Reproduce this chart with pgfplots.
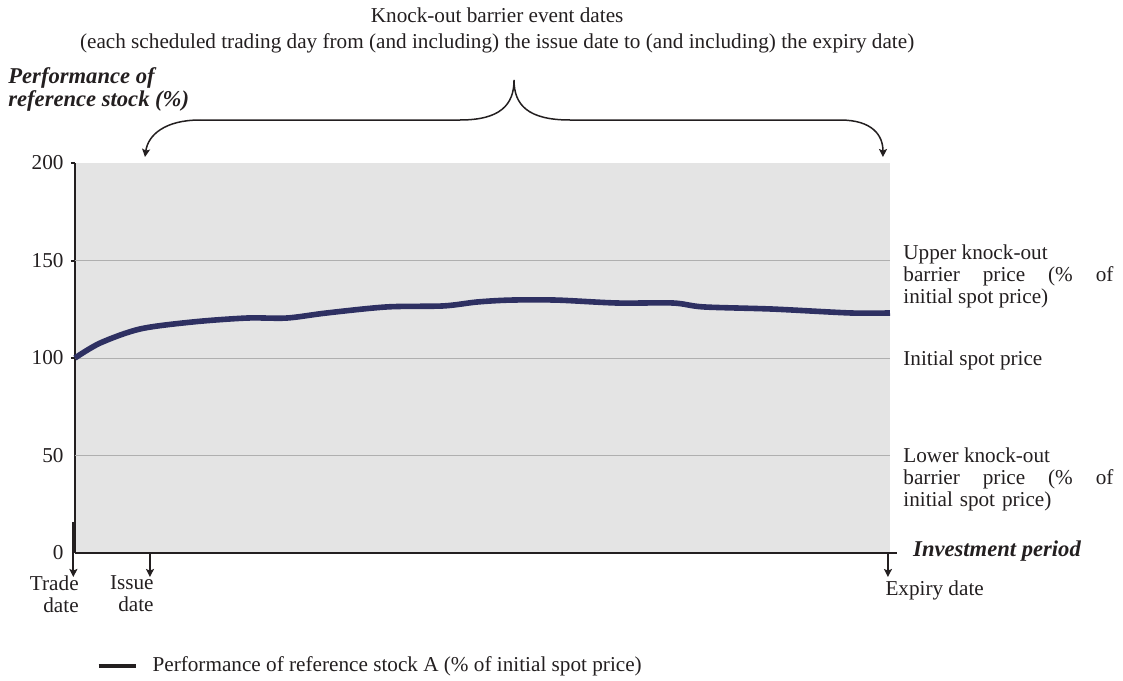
\documentclass[border=0pt]{standalone}
\usepackage{pgfplots}
\pgfplotsset{compat=1.18}
\usepackage{fontspec}
\setmainfont{Liberation Serif}
\usetikzlibrary{arrows.meta}

\definecolor{stockline}{RGB}{46,48,98}
\definecolor{panel}{RGB}{228,228,228}
\definecolor{gridgray}{RGB}{175,175,175}
\definecolor{ink}{RGB}{35,31,32}

% performance of reference stock A, % of initial spot price
\pgfplotstableread{
t    perf
0    100
3.1  107.7
8.0  114.9
14.5 118.5
21.1 120.5
26.0 120.5
30.9 123.1
38.3 126.2
45.2 126.7
49.3 128.7
53.4 129.7
59.1 129.7
66.5 128.2
73.4 128.2
77.1 126.2
85.6 125.1
95.1 123.1
100  123.1
}\stockA

\begin{document}
\fontsize{10.6}{11}\selectfont
\begin{tikzpicture}[>={Stealth[length=4pt,width=4pt,inset=0.8pt]}]
\begin{axis}[
    scale only axis,
    width=407.5pt, height=195pt,
    xmin=0, xmax=100, ymin=0, ymax=200,
    clip=false,
    axis x line*=bottom, axis y line*=left,
    axis line style={-},
    x axis line style={draw=none},
    y axis line style={line width=1pt, ink},
    axis background/.style={fill=panel},
    xtick=\empty,
    ytick={100,150,200},
    extra y ticks={0,50},
    extra y tick style={tick style={draw=none}},
    tick align=outside,
    major tick length=2pt,
    tick style={line width=1pt, ink},
    yticklabel style={text=ink},
    /pgf/number format/assume math mode=true,
    legend style={draw=none, fill=none, at={(axis description cs:0.026,-0.29)},
      anchor=west, inner sep=0pt, text=ink},
  ]
  % grid lines
  \draw[gridgray, line width=0.5pt] (axis cs:0,50) -- (axis cs:100,50);
  \draw[gridgray, line width=0.5pt] (axis cs:0,100) -- (axis cs:100,100);
  \draw[gridgray, line width=0.5pt] (axis cs:0,150) -- (axis cs:100,150);

  \addplot[stockline, line width=2.8pt, smooth, tension=0.5, forget plot]
    table[x=t, y=perf] {\stockA};
  \addlegendimage{legend image code/.code={\draw[line width=2pt, ink] (0pt,0pt) -- (18.5pt,0pt);
      \path[draw=none] (0pt,0pt) -- (25pt,0pt);}}
  \addlegendentry{Performance of reference stock A (\% of initial spot price)}

  % x axis and date arrows
  \draw[line width=1pt, ink] (axis cs:0,0) -- (axis cs:100.8,0);
  \draw[line width=1pt, ink, ->] (axis cs:-0.2,15.9) -- (axis cs:-0.2,-12.3);
  \draw[line width=1pt, ink, ->] (axis cs:9.2,0) -- (axis cs:9.2,-12.3);
  \draw[line width=1pt, ink, ->] (axis cs:99.75,0) -- (axis cs:99.75,-12.3);

  \node[anchor=north east, align=right, inner sep=0pt, text=ink] at (axis cs:0.5,-11.5) {Trade\\date};
  \node[anchor=north east, align=right, inner sep=0pt, text=ink] at (axis cs:9.7,-11.5) {Issue\\date};
  \node[anchor=north west, inner sep=0pt, text=ink] at (axis cs:99.4,-14.2) {Expiry date};
  \node[anchor=base west, inner sep=0pt, text=ink, font=\bfseries\itshape\fontsize{11.3}{11}\selectfont]
    at (axis cs:102.8,-1.6) {Investment period};

  % labels on the right (base = last line)
  \node[anchor=base west, align=left, inner sep=0pt, text=ink] at (axis cs:101.6,127.7)
    {Upper knock-out\\\makebox[105pt][s]{barrier price (\% of}\\initial spot price)};
  \node[anchor=base west, inner sep=0pt, text=ink] at (axis cs:101.6,96.4) {Initial spot price};
  \node[anchor=base west, align=left, inner sep=0pt, text=ink] at (axis cs:101.6,23.6)
    {Lower knock-out\\\makebox[105pt][s]{barrier price (\% of}\\\makebox[74pt][s]{initial spot price)}};

  % y label
  \node[anchor=base west, align=left, inner sep=0pt, text=ink, font=\bfseries\itshape\fontsize{11.3}{9.5}\selectfont]
    at (axis cs:-8.22,229.2) {Performance of\\reference stock (\%)};

  % title and brace
  \node[anchor=base, align=center, inner sep=0pt, text=ink, font=\fontsize{10.6}{13}\selectfont]
    at (axis cs:51.8,258.5) {Knock-out barrier event dates\\(each scheduled trading day from (and including) the issue date to (and including) the expiry date)};
  \draw[line width=0.75pt, ink, ->] (axis cs:15.34,222.05) .. controls (axis cs:11.04,222.05) and (axis cs:8.96,214.36) .. (axis cs:8.59,203.08);
  \draw[line width=0.75pt, ink, ->] (axis cs:15.34,222.05) -- (axis cs:47.24,222.05)
    .. controls (axis cs:52.15,222.05) and (axis cs:53.87,229.74) .. (axis cs:53.87,242.56)
    .. controls (axis cs:53.87,229.74) and (axis cs:55.58,222.05) .. (axis cs:60.74,222.05)
    -- (axis cs:93.87,222.05)
    .. controls (axis cs:97.79,222.05) and (axis cs:99.14,214.36) .. (axis cs:99.14,203.08);

  % page extent
  \path (axis cs:-9.2,283.59) rectangle (axis cs:128.59,-65.13);
\end{axis}
\end{tikzpicture}
\end{document}
